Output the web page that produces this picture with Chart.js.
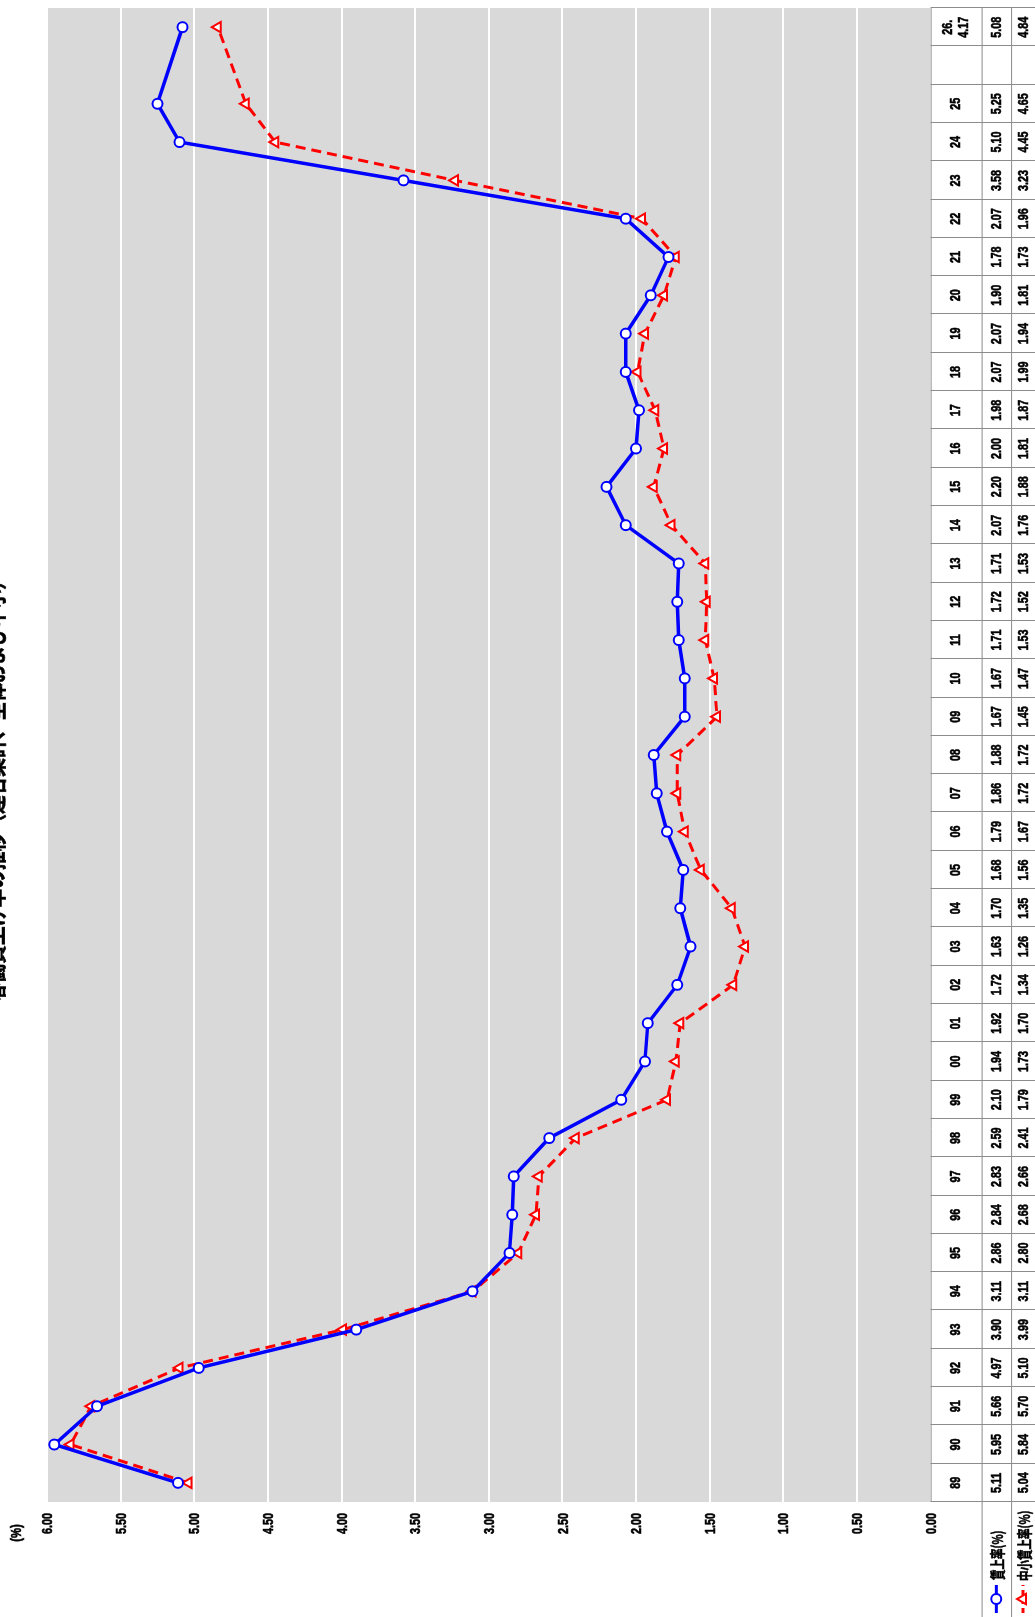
<!DOCTYPE html>
<html>
<head>
<meta charset="utf-8">
<script src="https://cdn.jsdelivr.net/npm/chart.js@4.4.1/dist/chart.umd.min.js"></script>
<style>
html, body { margin: 0; padding: 0; background: #fff; overflow: hidden; }
/* chart is drawn landscape, then turned 90deg counter-clockwise like the original */
#wrap { position: absolute; left: 0; top: 0; width: 1617px; height: 1035px;
        transform-origin: 0 0; transform: translateY(1617px) rotate(-90deg); }
</style>
</head>
<body>
<div id="wrap"><canvas id="rateChart" width="1617" height="1035"></canvas></div>
<script>
const categories = ['89','90','91','92','93','94','95','96','97','98','99',
    '00','01','02','03','04','05','06','07','08','09','10','11','12','13',
    '14','15','16','17','18','19','20','21','22','23','24','25','',['26.','4.17']];
const wageRate = [5.11,5.95,5.66,4.97,3.90,3.11,2.86,2.84,2.83,2.59,2.10,
    1.94,1.92,1.72,1.63,1.70,1.68,1.79,1.86,1.88,1.67,1.67,1.71,1.72,1.71,
    2.07,2.20,2.00,1.98,2.07,2.07,1.90,1.78,2.07,3.58,5.10,5.25,null,5.08];
const smallFirmRate = [5.04,5.84,5.70,5.10,3.99,3.11,2.80,2.68,2.66,2.41,1.79,
    1.73,1.70,1.34,1.26,1.35,1.56,1.67,1.72,1.72,1.45,1.47,1.53,1.52,1.53,
    1.76,1.88,1.81,1.87,1.99,1.94,1.81,1.73,1.96,3.23,4.45,4.65,null,4.84];
const yMin = 0, yMax = 6, yStep = 0.5;
const titleText = '春闘賃上げ率の推移（連合集計、全体および中小）';

const SANS = '"Liberation Sans", Arial, "Noto Sans CJK JP", sans-serif';
const JP = '"Noto Sans CJK JP", sans-serif';

// condensed look: draw text squeezed horizontally (with a hairline stroke to thicken it)
function narrowText(ctx, text, x, y, align, sx) {
    ctx.save();
    ctx.translate(x, y);
    ctx.scale(sx, 1);
    ctx.textAlign = align;
    ctx.strokeStyle = ctx.fillStyle;
    ctx.lineWidth = 0.6;
    ctx.fillText(text, 0, 0);
    ctx.strokeText(text, 0, 0);
    ctx.restore();
}

const plotBg = {
    id: 'plotBg',
    beforeDraw(chart) {
        const {ctx, chartArea: a} = chart;
        ctx.save();
        ctx.fillStyle = '#fff';
        ctx.fillRect(0, 0, chart.width, chart.height);
        ctx.fillStyle = '#d9d9d9';
        ctx.fillRect(a.left, a.top, a.right - a.left, a.bottom - a.top);
        ctx.restore();
    }
};

function drawMarker(ctx, x, y, ds) {
    ctx.save();
    ctx.lineWidth = 3;
    ctx.strokeStyle = ds.borderColor;
    ctx.setLineDash(ds.borderDash ? [5, 4] : []);
    ctx.beginPath(); ctx.moveTo(x - 14, y); ctx.lineTo(x + 14, y); ctx.stroke();
    ctx.setLineDash([]);
    ctx.lineWidth = 2;
    ctx.fillStyle = '#fff';
    ctx.beginPath();
    if (ds.pointStyle === 'triangle') {
        const r = 6;
        ctx.moveTo(x, y - r); ctx.lineTo(x + r * 0.87, y + r * 0.5); ctx.lineTo(x - r * 0.87, y + r * 0.5);
        ctx.closePath();
    } else {
        ctx.arc(x, y, 5, 0, Math.PI * 2);
    }
    ctx.fill(); ctx.stroke();
    ctx.restore();
}

// data table under the plot + legend cells + axis labels + title
const dataTable = {
    id: 'dataTable',
    afterDraw(chart) {
        const {ctx, chartArea: a} = chart;
        const n = categories.length;
        const w = (a.right - a.left) / n;
        const r0 = a.bottom, r1 = a.bottom + 51, r2 = a.bottom + 80.5, r3 = chart.height;
        ctx.save();
        ctx.strokeStyle = '#8c8c8c';
        ctx.lineWidth = 1;
        ctx.beginPath();
        ctx.moveTo(a.left, r0 + 0.5); ctx.lineTo(a.right, r0 + 0.5);
        ctx.moveTo(0, r1 + 0.5); ctx.lineTo(a.right, r1 + 0.5);
        ctx.moveTo(0, r2 + 0.5); ctx.lineTo(a.right, r2 + 0.5);
        for (let i = 0; i <= n; i++) {
            const x = Math.round(a.left + i * w) + 0.5;
            ctx.moveTo(x, r0); ctx.lineTo(x, r3);
        }
        ctx.stroke();

        ctx.fillStyle = '#000';
        ctx.textBaseline = 'middle';
        ctx.font = 'bold 15px ' + SANS;
        const sets = chart.data.datasets;
        const sx = 0.72;
        for (let i = 0; i < n; i++) {
            const cx = a.left + (i + 0.5) * w;
            const lab = categories[i];
            if (Array.isArray(lab)) {
                narrowText(ctx, lab[0], cx, (r0 + r1) / 2 - 8, 'center', sx);
                narrowText(ctx, lab[1], cx, (r0 + r1) / 2 + 8, 'center', sx);
            } else {
                narrowText(ctx, lab, cx, (r0 + r1) / 2, 'center', sx);
            }
            const v1 = sets[0].data[i], v2 = sets[1].data[i];
            if (v1 != null) narrowText(ctx, v1.toFixed(2), cx, (r1 + r2) / 2 + 1, 'center', sx);
            if (v2 != null) narrowText(ctx, v2.toFixed(2), cx, (r2 + r3) / 2 + 1, 'center', sx);
        }

        // y tick labels taken from the axis
        const ys = chart.scales.y;
        ys.ticks.forEach(t => {
            narrowText(ctx, t.value.toFixed(2), a.left - 11, ys.getPixelForValue(t.value) + 1, 'right', sx);
        });

        // legend cells
        drawMarker(ctx, 18, (r1 + r2) / 2, sets[0]);
        drawMarker(ctx, 18, (r2 + r3) / 2, sets[1]);
        ctx.fillStyle = '#000';
        ctx.font = 'bold 15px ' + JP;
        narrowText(ctx, sets[0].label, 37, (r1 + r2) / 2 + 1, 'left', 0.7);
        narrowText(ctx, sets[1].label, 36, (r2 + r3) / 2 + 1, 'left', 0.7);

        // unit and title (title sits mostly above the top edge, as in the original)
        ctx.font = 'bold 15px ' + SANS;
        narrowText(ctx, '(%)', 84, 17, 'center', 0.75);
        ctx.font = 'bold 22px ' + JP;
        ctx.textBaseline = 'alphabetic';
        narrowText(ctx, titleText, 831, 3, 'center', 0.85);
        ctx.restore();
    }
};

new Chart(document.getElementById('rateChart'), {
    type: 'line',
    data: {
        labels: categories,
        datasets: [{
            label: '賃上率(%)',
            data: wageRate,
            borderColor: '#0000ff',
            borderWidth: 3.5,
            pointStyle: 'circle',
            pointRadius: 5,
            pointBorderWidth: 2,
            pointBackgroundColor: '#fff',
            pointBorderColor: '#0000ff',
            spanGaps: true,
            tension: 0
        }, {
            label: '中小賃上率(%)',
            data: smallFirmRate,
            borderColor: '#ff0000',
            borderWidth: 3,
            borderDash: [10, 6],
            pointStyle: 'triangle',
            pointRadius: 6,
            pointBorderWidth: 2,
            pointBackgroundColor: '#fff',
            pointBorderColor: '#ff0000',
            spanGaps: true,
            tension: 0
        }]
    },
    options: {
        responsive: false,
        animation: false,
        devicePixelRatio: 1,
        layout: { padding: { left: 0, top: 47, right: 5, bottom: 104.4 } },
        plugins: { legend: { display: false }, tooltip: { enabled: false } },
        scales: {
            x: { display: false, offset: true, grid: { display: false } },
            y: {
                min: yMin, max: yMax,
                afterFit(scale) { scale.width = 115; },
                border: { display: false },
                grid: { color: '#ffffff', lineWidth: 2, drawTicks: false },
                ticks: { stepSize: yStep, display: false }
            }
        }
    },
    plugins: [plotBg, dataTable]
});
</script>
</body>
</html>
